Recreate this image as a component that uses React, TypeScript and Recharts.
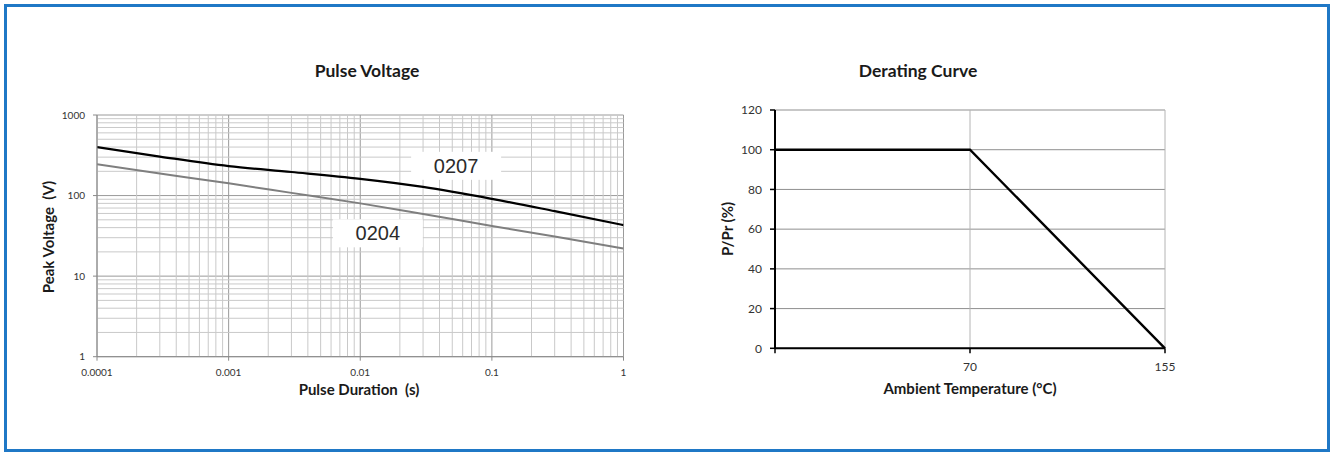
import React from "react";
import {
  LineChart,
  Line,
  XAxis,
  YAxis,
  CartesianGrid,
  ReferenceDot,
  ReferenceLine,
} from "recharts";

// Pulse voltage (log-log)
const durations = [0.0001, 0.0003, 0.001, 0.003, 0.01, 0.03, 0.1, 0.3, 1];
const volts0207 = [400, 305, 232, 196, 161, 128, 91, 64, 43];
const volts0204 = [244, 188, 142, 108, 80, 59, 42, 31, 22];
const durationTicks = [0.0001, 0.001, 0.01, 0.1, 1];
const durationTickLabels = ["0.0001", "0.001", "0.01", "0.1", "1"];
const voltTicks = [1, 10, 100, 1000];
const minorDurationTicks = [
  0.0002, 0.0003, 0.0004, 0.0005, 0.0006, 0.0007, 0.0008, 0.0009,
  0.002, 0.003, 0.004, 0.005, 0.006, 0.007, 0.008, 0.009,
  0.02, 0.03, 0.04, 0.05, 0.06, 0.07, 0.08, 0.09,
  0.2, 0.3, 0.4, 0.5, 0.6, 0.7, 0.8, 0.9,
];
const minorVoltTicks = [
  2, 3, 4, 5, 6, 7, 8, 9,
  20, 30, 40, 50, 60, 70, 80, 90,
  200, 300, 400, 500, 600, 700, 800, 900,
];
const seriesLabels = [
  { name: "0207", x: 0.0535, y: 234 },
  { name: "0204", x: 0.0136, y: 34 },
];

// Derating curve
const temperatures = ["", "70", "155"];
const powerPercent = [100, 100, 0];
const percentTicks = [0, 20, 40, 60, 80, 100, 120];

const pulseData = durations.map((d, i) => ({
  duration: d,
  v0207: volts0207[i],
  v0204: volts0204[i],
}));

const deratingData = temperatures.map((t, i) => ({ temp: t, pct: powerPercent[i] }));

const titleFont = "Lato, 'Open Sans', sans-serif";

const SeriesTag = (props: any) => {
  const { cx, cy, name } = props;
  if (cx == null || cy == null) return null;
  return (
    <g>
      <rect x={cx - 45} y={cy - 14} width={90} height={28} fill="#fff" />
      <text
        x={cx}
        y={cy + 7}
        textAnchor="middle"
        fontFamily="'Liberation Sans', Arial, sans-serif"
        fontSize={20}
        fill="#2b2b2b"
      >
        {name}
      </text>
    </g>
  );
};

function Title({ x, y, size, children, rotate }: any) {
  return (
    <div
      style={{
        position: "absolute",
        left: x,
        top: y,
        transform: `translate(-50%, -50%)${rotate ? " rotate(-90deg)" : ""}`,
        fontFamily: titleFont,
        fontWeight: 700,
        fontSize: size,
        lineHeight: 1,
        color: "#1a1a1a",
        whiteSpace: "nowrap",
      }}
    >
      {children}
    </div>
  );
}

export default function App() {
  const tickStyle = { fill: "#333", fontSize: 10, fontFamily: titleFont };
  const tickStyleR = { fill: "#333", fontSize: 12, fontFamily: titleFont };
  return (
    <div
      style={{
        position: "absolute",
        left: 0,
        top: 0,
        width: 1332,
        height: 454,
        background: "#fff",
        overflow: "hidden",
      }}
    >
      <div
        style={{
          position: "absolute",
          left: 4,
          top: 4,
          width: 1326,
          height: 448,
          border: "3px solid #1f78c6",
          boxSizing: "border-box",
        }}
      />

      {/* left chart */}
      <div style={{ position: "absolute", left: 0, top: 0 }}>
        <LineChart
          width={660}
          height={420}
          data={pulseData}
          margin={{ top: 115, right: 36.5, bottom: 33.3, left: 37 }}
        >
          {minorDurationTicks.map((v) => (
            <ReferenceLine key={`mx${v}`} x={v} stroke="#c9c9c9" strokeWidth={1} />
          ))}
          {minorVoltTicks.map((v) => (
            <ReferenceLine key={`my${v}`} y={v} stroke="#c9c9c9" strokeWidth={1} />
          ))}
          <CartesianGrid stroke="#9a9a9a" strokeWidth={1} />
          <XAxis
            dataKey="duration"
            type="number"
            scale="log"
            domain={[0.0001, 1]}
            allowDataOverflow
            ticks={durationTicks}
            tickFormatter={(v: number) => durationTickLabels[durationTicks.indexOf(v)] ?? String(v)}
            tick={tickStyle}
            tickSize={4}
            tickMargin={8}
            axisLine={{ stroke: "#8a8a8a" }}
            tickLine={{ stroke: "#8a8a8a" }}
            height={30}
            interval={0}
          />
          <YAxis
            type="number"
            scale="log"
            domain={[1, 1000]}
            allowDataOverflow
            ticks={voltTicks}
            tick={tickStyle}
            tickSize={4}
            tickMargin={8}
            axisLine={{ stroke: "#8a8a8a" }}
            tickLine={{ stroke: "#8a8a8a" }}
            width={60}
            interval={0}
          />
          <Line
            dataKey="v0204"
            type="monotone"
            stroke="#7f7f7f"
            strokeWidth={2}
            dot={false}
            isAnimationActive={false}
          />
          <Line
            dataKey="v0207"
            type="monotone"
            stroke="#000"
            strokeWidth={2.2}
            dot={false}
            isAnimationActive={false}
          />
          {seriesLabels.map((s) => (
            <ReferenceDot
              key={s.name}
              x={s.x}
              y={s.y}
              r={0}
              shape={(p: any) => <SeriesTag {...p} name={s.name} />}
            />
          ))}
        </LineChart>
      </div>

      {/* right chart */}
      <div style={{ position: "absolute", left: 660, top: 0 }}>
        <LineChart
          width={672}
          height={420}
          data={deratingData}
          margin={{ top: 110, right: 167, bottom: 41.7, left: 55 }}
        >
          <CartesianGrid vertical={false} stroke="#8f8f8f" />
          <CartesianGrid horizontal={false} stroke="#b4b4b4" />
          <XAxis
            dataKey="temp"
            type="category"
            tick={tickStyleR}
            tickSize={5}
            tickMargin={9}
            axisLine={{ stroke: "#000", strokeWidth: 2 }}
            tickLine={{ stroke: "#000", strokeWidth: 1.5 }}
            height={30}
            interval={0}
          />
          <YAxis
            type="number"
            domain={[0, 120]}
            ticks={percentTicks}
            tick={tickStyleR}
            tickSize={5}
            tickMargin={8}
            axisLine={{ stroke: "#000", strokeWidth: 2 }}
            tickLine={{ stroke: "#000", strokeWidth: 1.5 }}
            width={60}
            interval={0}
          />
          <Line
            dataKey="pct"
            type="linear"
            stroke="#000"
            strokeWidth={2.4}
            dot={false}
            isAnimationActive={false}
          />
        </LineChart>
      </div>

      <Title x={367} y={71} size={17.5}>Pulse Voltage</Title>
      <Title x={359} y={389} size={15}>Pulse Duration&nbsp; (s)</Title>
      <Title x={48} y={237} size={15} rotate>Peak Voltage&nbsp; (V)</Title>
      <Title x={918} y={71} size={17.5}>Derating Curve</Title>
      <Title x={970} y={388} size={15}>Ambient Temperature (°C)</Title>
      <Title x={727} y={229} size={15} rotate>P/Pr (%)</Title>
    </div>
  );
}
